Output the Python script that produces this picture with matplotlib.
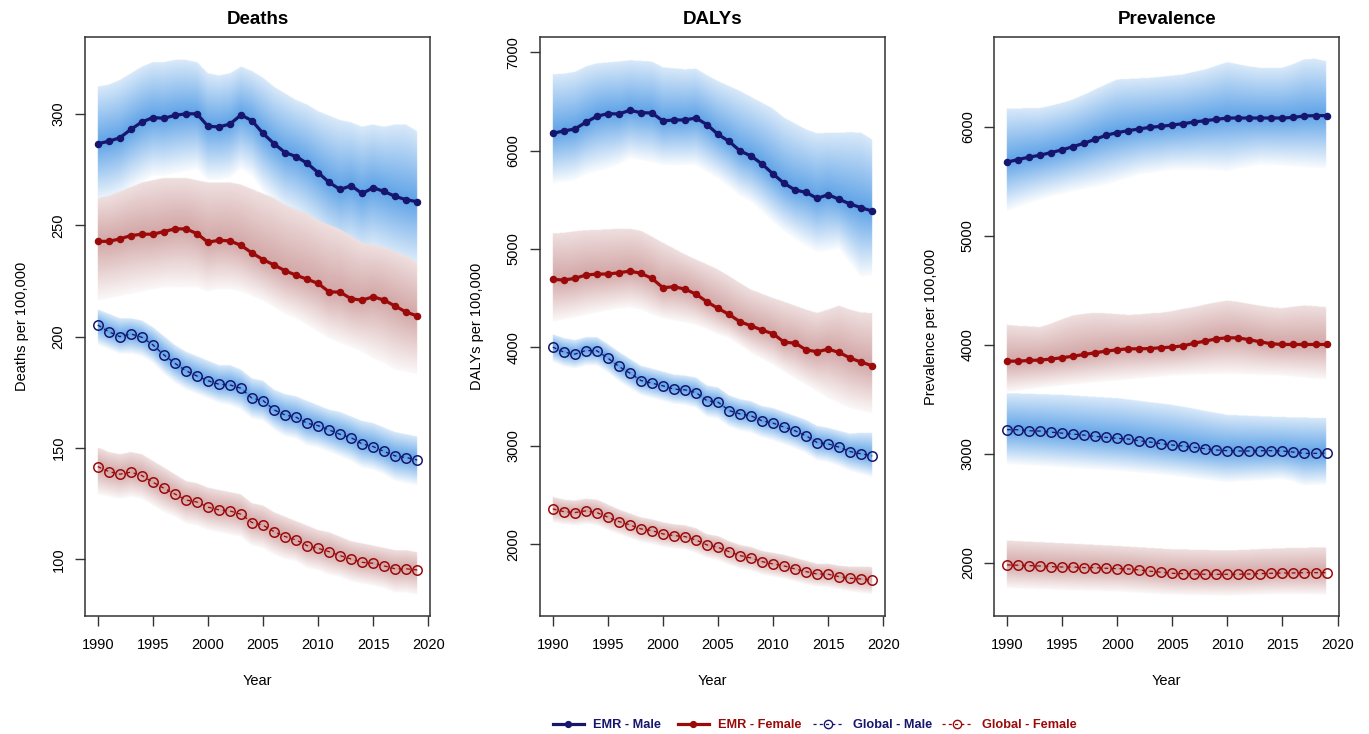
import numpy as np
import matplotlib
matplotlib.use("Agg")
import matplotlib.pyplot as plt
from matplotlib.lines import Line2D

plt.rcParams['font.family'] = ['Liberation Sans', 'DejaVu Sans']

years = list(range(1990, 2020))

# ---- Deaths per 100,000 ----
deaths_emr_male = [286.6, 287.8, 289.3, 293.1, 296.4, 298.4, 298.1, 299.4, 300.1, 300.1,
                   294.5, 294.2, 295.5, 299.6, 297.0, 291.3, 286.7, 282.7, 280.9, 277.9,
                   273.7, 269.3, 266.1, 267.8, 264.3, 266.9, 265.2, 263.0, 261.5, 260.6]
deaths_emr_male_hi = [312, 313, 315, 318, 321, 323, 323, 324, 324, 323,
                      318, 317, 318, 321, 319, 316, 312, 309, 306, 304,
                      301, 299, 297, 296, 294, 295, 294, 295, 295, 292]
deaths_emr_male_lo = [259, 260, 262, 266, 269, 272, 272, 273, 274, 275,
                      270, 270, 271, 275, 272, 265, 260, 255, 252, 248,
                      244, 239, 236, 236, 233, 234, 232, 230, 228, 227]
deaths_emr_female = [242.8, 242.8, 243.9, 245.4, 246.0, 246.0, 247.2, 248.4, 248.4, 246.3,
                     242.4, 243.3, 243.0, 241.0, 237.6, 234.6, 232.2, 229.6, 227.6, 225.8,
                     223.9, 220.1, 220.0, 217.0, 216.4, 217.9, 216.4, 213.7, 211.0, 209.3]
deaths_emr_female_hi = [262, 263, 265, 267, 269, 270, 271, 271, 271, 270,
                        269, 269, 269, 268, 266, 264, 262, 259, 257, 255,
                        252, 250, 248, 245, 242, 241, 240, 238, 236, 233]
deaths_emr_female_lo = [216, 217, 218, 219, 220, 221, 222, 222, 222, 222,
                        220, 221, 221, 220, 218, 216, 213, 210, 208, 205,
                        202, 199, 197, 195, 193, 190, 188, 185, 184, 183]
deaths_glb_male = [205.2, 202.2, 200.0, 201.2, 199.7, 196.3, 191.8, 188.0, 184.7, 182.3,
                   180.2, 178.6, 178.3, 176.8, 172.3, 171.3, 167.1, 164.8, 163.8, 161.1,
                   160.0, 158.1, 156.1, 154.6, 151.8, 150.6, 148.4, 146.4, 145.7, 144.6]
deaths_glb_male_hi = [212, 210, 208, 208, 207, 204, 200, 196, 193, 191,
                      189, 187, 187, 185, 181, 180, 176, 174, 173, 171,
                      169, 167, 166, 164, 162, 161, 159, 157, 156, 155]
deaths_glb_male_lo = [196, 194, 192, 192, 191, 188, 183, 179, 176, 174,
                      172, 170, 169, 167, 163, 162, 158, 155, 154, 151,
                      150, 148, 146, 144, 141, 140, 138, 135, 134, 133]
deaths_glb_female = [141.6, 139.4, 138.2, 139.1, 137.6, 134.6, 131.9, 129.3, 126.6, 125.7,
                     123.4, 122.2, 121.7, 120.2, 116.5, 115.3, 112.4, 110.2, 108.7, 106.1,
                     104.9, 103.4, 101.6, 100.1, 98.6, 98.2, 97.0, 95.7, 95.7, 95.2]
deaths_glb_female_hi = [150, 148, 147, 148, 147, 144, 141, 138, 135, 134,
                        132, 131, 130, 129, 125, 124, 121, 119, 117, 115,
                        113, 112, 110, 108, 107, 106, 105, 104, 104, 103]
deaths_glb_female_lo = [129, 128, 127, 128, 127, 124, 121, 119, 116, 115,
                        113, 112, 111, 110, 106, 105, 102, 100, 99, 96,
                        95, 93, 92, 90, 89, 88, 87, 85, 85, 84]

# ---- DALYs per 100,000 ----
dalys_emr_male = [6176, 6200, 6220, 6288, 6349, 6376, 6373, 6410, 6386, 6383,
                  6302, 6312, 6312, 6332, 6264, 6166, 6095, 5997, 5946, 5864,
                  5763, 5668, 5600, 5576, 5515, 5553, 5505, 5458, 5420, 5386]
dalys_emr_male_hi = [6770, 6775, 6795, 6850, 6880, 6890, 6900, 6912, 6905, 6898,
                     6840, 6830, 6820, 6827, 6760, 6700, 6650, 6600, 6540, 6480,
                     6420, 6330, 6270, 6210, 6170, 6176, 6176, 6180, 6176, 6108]
dalys_emr_male_lo = [5660, 5675, 5695, 5755, 5785, 5812, 5855, 5914, 5895, 5875,
                     5846, 5845, 5845, 5846, 5775, 5711, 5625, 5535, 5473, 5375,
                     5270, 5175, 5100, 5025, 4965, 4975, 4999, 4855, 4711, 4728]
dalys_emr_female = [4692, 4685, 4702, 4736, 4746, 4746, 4759, 4776, 4753, 4702,
                    4607, 4617, 4593, 4542, 4464, 4397, 4336, 4261, 4220, 4176,
                    4139, 4054, 4044, 3976, 3956, 3983, 3949, 3892, 3851, 3814]
dalys_emr_female_hi = [5153, 5160, 5175, 5186, 5190, 5195, 5200, 5200, 5180, 5120,
                       5058, 5000, 4940, 4888, 4840, 4786, 4720, 4650, 4583, 4540,
                       4498, 4460, 4420, 4380, 4346, 4380, 4420, 4380, 4350, 4346]
dalys_emr_female_lo = [4258, 4280, 4300, 4326, 4350, 4370, 4390, 4400, 4380, 4330,
                       4292, 4270, 4250, 4224, 4180, 4130, 4092, 4020, 3940, 3880,
                       3821, 3750, 3680, 3617, 3550, 3482, 3430, 3380, 3350, 3329]
dalys_glb_male = [4003, 3953, 3932, 3969, 3966, 3892, 3807, 3739, 3664, 3637,
                  3610, 3576, 3569, 3542, 3458, 3444, 3359, 3325, 3305, 3254,
                  3231, 3190, 3153, 3102, 3034, 3020, 2986, 2942, 2919, 2898]
dalys_glb_male_hi = [4129, 4090, 4070, 4100, 4100, 4030, 3950, 3880, 3810, 3780,
                     3750, 3720, 3710, 3690, 3610, 3590, 3510, 3470, 3450, 3400,
                     3380, 3340, 3300, 3260, 3200, 3180, 3150, 3120, 3130, 3129]
dalys_glb_male_lo = [3850, 3800, 3780, 3810, 3810, 3740, 3650, 3580, 3510, 3480,
                     3450, 3420, 3410, 3380, 3290, 3270, 3190, 3150, 3130, 3080,
                     3050, 3010, 2970, 2920, 2850, 2830, 2790, 2740, 2710, 2678]
dalys_glb_female = [2359, 2332, 2322, 2339, 2322, 2275, 2231, 2197, 2156, 2139,
                    2105, 2088, 2078, 2044, 1993, 1969, 1925, 1885, 1861, 1824,
                    1800, 1780, 1749, 1722, 1698, 1695, 1671, 1654, 1647, 1637]
dalys_glb_female_hi = [2478, 2450, 2440, 2460, 2450, 2400, 2350, 2310, 2270, 2250,
                       2220, 2200, 2190, 2160, 2100, 2080, 2030, 1990, 1970, 1930,
                       1910, 1890, 1860, 1830, 1800, 1800, 1780, 1770, 1770, 1766]
dalys_glb_female_lo = [2221, 2200, 2190, 2205, 2190, 2140, 2100, 2060, 2020, 2000,
                       1970, 1955, 1945, 1910, 1860, 1835, 1790, 1750, 1730, 1690,
                       1670, 1650, 1620, 1590, 1570, 1560, 1540, 1520, 1505, 1492]

# ---- Prevalence per 100,000 ----
prev_emr_male = [5677, 5701, 5723, 5741, 5765, 5790, 5820, 5851, 5887, 5924,
                 5948, 5966, 5982, 5997, 6006, 6018, 6030, 6046, 6058, 6070,
                 6082, 6082, 6082, 6082, 6082, 6082, 6088, 6101, 6104, 6104]
prev_emr_male_hi = [6162, 6165, 6166, 6168, 6190, 6215, 6247, 6290, 6338, 6385,
                    6430, 6435, 6440, 6445, 6455, 6465, 6476, 6500, 6521, 6555,
                    6588, 6570, 6550, 6537, 6537, 6537, 6570, 6613, 6620, 6598]
prev_emr_male_lo = [5221, 5260, 5295, 5328, 5355, 5380, 5404, 5425, 5445, 5465,
                    5495, 5525, 5556, 5570, 5585, 5602, 5602, 5602, 5602, 5595,
                    5587, 5610, 5630, 5648, 5645, 5640, 5632, 5625, 5618, 5611]
prev_emr_female = [3850, 3850, 3856, 3860, 3869, 3881, 3896, 3911, 3927, 3942,
                   3954, 3963, 3963, 3966, 3973, 3979, 3991, 4015, 4034, 4055,
                   4064, 4064, 4046, 4027, 4009, 4003, 4003, 4003, 4003, 4003]
prev_emr_female_hi = [4180, 4170, 4165, 4159, 4190, 4230, 4265, 4280, 4290, 4285,
                      4278, 4271, 4275, 4285, 4290, 4305, 4325, 4342, 4365, 4385,
                      4402, 4390, 4372, 4355, 4340, 4332, 4345, 4357, 4350, 4342]
prev_emr_female_lo = [3562, 3575, 3588, 3600, 3612, 3623, 3632, 3641, 3650, 3660,
                      3669, 3678, 3687, 3696, 3705, 3714, 3718, 3722, 3726, 3728,
                      3730, 3728, 3725, 3721, 3718, 3714, 3705, 3696, 3687, 3678]
prev_glb_male = [3221, 3220, 3211, 3208, 3198, 3189, 3180, 3171, 3159, 3150,
                 3141, 3135, 3119, 3107, 3092, 3080, 3070, 3058, 3046, 3034,
                 3028, 3025, 3025, 3028, 3028, 3025, 3015, 3003, 3003, 3006]
prev_glb_male_hi = [3553, 3550, 3547, 3544, 3540, 3537, 3531, 3525, 3519, 3513,
                    3507, 3495, 3483, 3470, 3458, 3446, 3428, 3410, 3390, 3372,
                    3354, 3350, 3345, 3341, 3337, 3333, 3331, 3329, 3326, 3324]
prev_glb_male_lo = [2901, 2895, 2889, 2883, 2877, 2871, 2865, 2859, 2852, 2846,
                    2840, 2831, 2822, 2813, 2804, 2795, 2783, 2770, 2758, 2745,
                    2733, 2740, 2746, 2752, 2758, 2764, 2740, 2703, 2708, 2712]
prev_glb_female = [1979, 1976, 1973, 1969, 1963, 1960, 1960, 1954, 1954, 1948,
                   1945, 1942, 1933, 1921, 1912, 1902, 1899, 1896, 1893, 1893,
                   1893, 1893, 1896, 1899, 1902, 1905, 1905, 1908, 1908, 1908]
prev_glb_female_hi = [2200, 2195, 2190, 2186, 2181, 2176, 2171, 2166, 2161, 2156,
                      2151, 2145, 2139, 2133, 2127, 2121, 2119, 2116, 2114, 2111,
                      2109, 2113, 2117, 2122, 2126, 2130, 2132, 2134, 2137, 2139]
prev_glb_female_lo = [1764, 1760, 1757, 1753, 1750, 1746, 1743, 1740, 1738, 1735,
                      1733, 1727, 1721, 1715, 1709, 1703, 1701, 1699, 1697, 1696,
                      1694, 1697, 1700, 1703, 1706, 1709, 1708, 1706, 1705, 1703]

titles = ["Deaths", "DALYs", "Prevalence"]
ylabels = ["Deaths per 100,000", "DALYs per 100,000", "Prevalence per 100,000"]
yticks = [[100, 150, 200, 250, 300],
          [2000, 3000, 4000, 5000, 6000, 7000],
          [2000, 3000, 4000, 5000, 6000]]
ylims = [(74.5, 334.6), (1271, 7155), (1510, 6826)]
xticks = [1990, 1995, 2000, 2005, 2010, 2015, 2020]
legend_labels = ["EMR - Male", "EMR - Female", "Global - Male", "Global - Female"]

panels = [
    [(deaths_emr_male, deaths_emr_male_lo, deaths_emr_male_hi),
     (deaths_emr_female, deaths_emr_female_lo, deaths_emr_female_hi),
     (deaths_glb_male, deaths_glb_male_lo, deaths_glb_male_hi),
     (deaths_glb_female, deaths_glb_female_lo, deaths_glb_female_hi)],
    [(dalys_emr_male, dalys_emr_male_lo, dalys_emr_male_hi),
     (dalys_emr_female, dalys_emr_female_lo, dalys_emr_female_hi),
     (dalys_glb_male, dalys_glb_male_lo, dalys_glb_male_hi),
     (dalys_glb_female, dalys_glb_female_lo, dalys_glb_female_hi)],
    [(prev_emr_male, prev_emr_male_lo, prev_emr_male_hi),
     (prev_emr_female, prev_emr_female_lo, prev_emr_female_hi),
     (prev_glb_male, prev_glb_male_lo, prev_glb_male_hi),
     (prev_glb_female, prev_glb_female_lo, prev_glb_female_hi)],
]

navy = "#16166e"
dred = "#9b0a0a"
line_cols = [navy, dred, navy, dred]
text_cols = [navy, dred, navy, dred]
# band base colour, weight at upper bound, at estimate, at lower bound
blue_band = (np.array([20, 120, 220]) / 255.0, 0.16, 0.68, 0.02)
red_band = (np.array([150, 45, 45]) / 255.0, 0.15, 0.42, 0.03)
band_styles = [blue_band, red_band, blue_band, red_band]


def band_image(series, xlim, ylim, nx=700, ny=1200):
    # opaque shaded uncertainty bands, strongest at the estimate
    xg = np.linspace(xlim[0], xlim[1], nx)
    yg = np.linspace(ylim[0], ylim[1], ny)[:, None]
    rgb = np.ones((ny, nx, 3))
    inside = (xg >= years[0]) & (xg <= years[-1])
    for (m, lo, hi), (col, w_top, w_mid, w_bot) in zip(series, band_styles):
        mi = np.interp(xg, years, m)
        li = np.interp(xg, years, lo)
        hi_ = np.interp(xg, years, hi)
        up = yg >= mi
        t = np.where(up, (yg - mi) / (hi_ - mi), (mi - yg) / (mi - li))
        w_edge = np.where(up, w_top, w_bot)
        w = w_edge + (w_mid - w_edge) * (1 - np.clip(t, 0, 1))
        mask = ((t <= 1) & inside)[..., None]
        shade = 1 - w[..., None] * (1 - col)
        rgb = np.where(mask, shade, rgb)
    return rgb


W, H = 1369, 734
fig = plt.figure(figsize=(W / 100, H / 100), dpi=100)
lefts = [85, 540, 994.3]
box_w = 345
box_top, box_bot = 37, 616
xlim = (1990 - 1.16, 2019 + 1.16)

x = np.array(years)
for p in range(3):
    ax = fig.add_axes([lefts[p] / W, 1 - box_bot / H, box_w / W, (box_bot - box_top) / H])
    img = band_image(panels[p], xlim, ylims[p])
    ax.imshow(img, extent=(xlim[0], xlim[1], ylims[p][0], ylims[p][1]), origin='lower',
              aspect='auto', interpolation='bilinear', zorder=0)
    for s, (m, lo, hi) in enumerate(panels[p]):
        if s < 2:
            ax.plot(x, m, color=line_cols[s], lw=2.3, marker='o', ms=4.4,
                    mec=line_cols[s], mfc=line_cols[s], zorder=3)
        else:
            ax.plot(x, m, color=line_cols[s], lw=0.9, ls=(0, (3, 3)), marker='o',
                    ms=6.8, mfc='none', mec=line_cols[s], mew=1.1, zorder=3)

    ax.set_xlim(*xlim)
    ax.set_ylim(*ylims[p])
    ax.set_xticks(xticks)
    ax.set_yticks(yticks[p])
    ax.tick_params(axis='both', direction='out', length=7, width=1, color='#333333',
                   labelsize=10.5)
    ax.tick_params(axis='x', pad=9)
    ax.tick_params(axis='y', pad=7)
    for lab in ax.get_yticklabels():
        lab.set_rotation(90)
        lab.set_va('center')
    for sp in ax.spines.values():
        sp.set_color('#333333')
        sp.set_linewidth(1.1)
    ax.set_title(titles[p], fontsize=13.5, fontweight='bold', pad=9)
    ax.set_ylabel(ylabels[p], fontsize=10.5)
    ax.yaxis.set_label_coords(-0.162, 0.5)
    ax.set_xlabel("Year", fontsize=10.5)
    ax.xaxis.set_label_coords(0.5, -0.100)

handles = [
    Line2D([], [], color=navy, lw=2.3, marker='o', ms=4.2, mfc=navy, mec=navy),
    Line2D([], [], color=dred, lw=2.3, marker='o', ms=4.2, mfc=dred, mec=dred),
    Line2D([], [], color=navy, lw=0.9, ls=(0, (2.5, 2.5)), marker='o', ms=6, mfc='none', mec=navy),
    Line2D([], [], color=dred, lw=0.9, ls=(0, (2.5, 2.5)), marker='o', ms=6, mfc='none', mec=dred),
]
leg_x = [553, 678, 813, 942]
for h, lab, c, lx in zip(handles, legend_labels, text_cols, leg_x):
    leg = fig.legend([h], [lab], loc='center left', bbox_to_anchor=(lx / W, 1 - 725 / H),
                     frameon=False, borderpad=0, borderaxespad=0, handlelength=2.4,
                     handletextpad=0.7, numpoints=1,
                     prop={'weight': 'bold', 'size': 9.2})
    leg.get_texts()[0].set_color(c)

fig.savefig("out.png", dpi=100)
